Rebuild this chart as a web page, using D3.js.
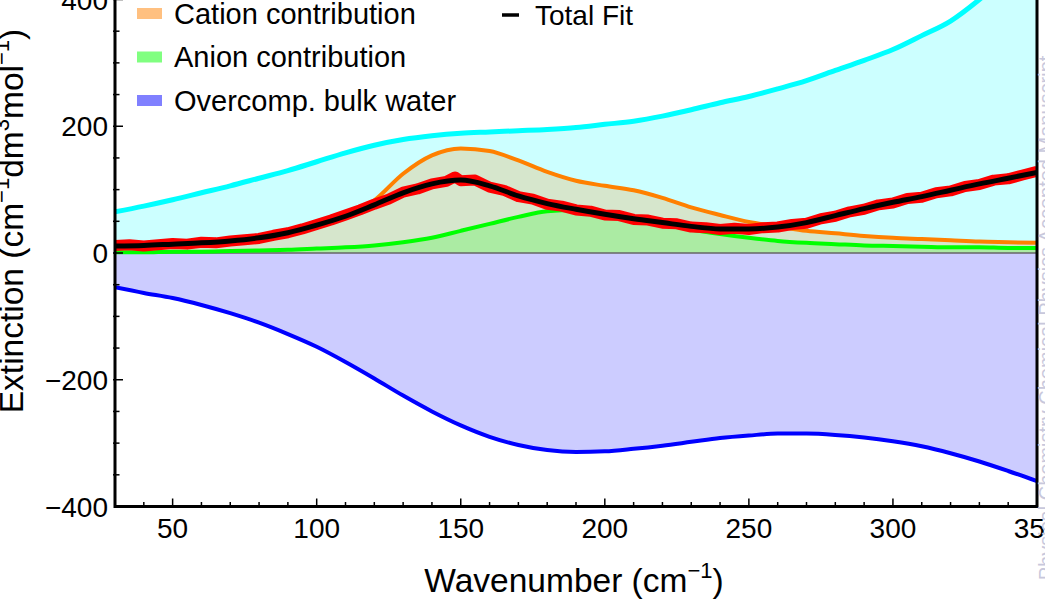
<!DOCTYPE html>
<html>
<head>
<meta charset="utf-8">
<script src="https://cdn.jsdelivr.net/npm/d3@7"></script>
<style>
  body { margin: 0; background: #fff; }
  svg { display: block; font-family: "Liberation Sans", Arial, sans-serif; }
</style>
</head>
<body>
<div id="chart"></div>
<script>
// ── Data ──
const wn = [30, 40, 50, 60, 70, 80, 90, 100, 110, 120, 130, 140, 150, 160, 170, 180, 190, 200,
            210, 220, 230, 240, 250, 260, 270, 280, 290, 300, 310, 320, 330, 340, 350];
const bulkWater = [65, 74, 84, 95, 106, 118, 130, 144, 158, 170, 179, 185, 189, 191, 193, 195, 198, 203,
                   208, 216, 226, 237, 247, 259, 272, 288, 304, 321, 343, 366, 400, 440, 485];
const overcomp = [-54, -63, -71, -82, -95, -110, -128, -148, -172, -198, -225, -250, -272, -290, -303, -311, -314, -313,
                  -309, -304, -298, -292, -288, -285, -285, -287, -291, -297, -305, -316, -329, -344, -360];
const cation = [9, 10, 12, 14, 17, 22, 31, 42, 57, 83, 125, 154, 165, 161, 146, 128, 114, 106,
                99, 87, 72, 60, 49, 42, 35, 31, 27, 24, 22, 20, 18, 17, 16];
const anion = [1, 1, 2, 2, 3, 4, 5, 7, 9, 12, 17, 24, 35, 46, 57, 66, 68, 63,
               55, 46, 37, 30, 24, 19, 16, 14, 12, 11, 10, 9, 9, 8, 8];
const totalFit = [11, 12, 14, 16, 19, 24, 32, 44, 58, 76, 95, 109, 115, 106, 90, 78, 69, 61,
                  54, 48, 42, 38, 38, 41, 48, 59, 70, 80, 89, 99, 109, 118, 127];

// measured spectrum (red, noisy)
const expWn = [30, 35, 40, 45, 50, 55, 60, 65, 70, 75, 80, 85, 90, 95, 100, 105, 110, 115, 120, 125,
               130, 135, 140, 145, 148, 150, 155, 160, 165, 170, 175, 180, 185, 190, 195, 200, 205, 210,
               215, 220, 225, 230, 235, 240, 245, 250, 255, 260, 265, 270, 275, 280, 285, 290, 295, 300,
               305, 310, 315, 320, 325, 330, 335, 340, 345, 350];
const expVal = [12, 13, 11, 13, 15, 14, 17, 16, 19, 21, 23, 28, 32, 38, 45, 52, 60, 68, 77, 85,
                96, 101, 109, 113, 120, 114, 115, 104, 99, 89, 85, 77, 74, 68, 66, 60, 59, 53,
                52, 47, 46, 41, 40, 37, 39, 37, 40, 41, 45, 47, 54, 58, 65, 69, 76, 79,
                86, 88, 95, 98, 105, 108, 115, 117, 123, 129];

const xTicks = [50, 100, 150, 200, 250, 300, 350];
const yTicks = [-400, -200, 0, 200, 400];

const legendItems = ["Cation contribution", "Anion contribution", "Overcomp. bulk water"];
const legendColors = ["#ffc080", "#80ff80", "#8080ff"];

// ── Layout ──
const width = 1045, height = 599;
const left = 115, right = 1037, bottom = 506.5;

const x = d3.scaleLinear().domain([30, 350]).range([left, right]);
const y = d3.scaleLinear().domain([-400, 0]).range([bottom, 253]);
const plotTop = y(480);

const svg = d3.select("#chart").append("svg")
  .attr("width", width).attr("height", height)
  .attr("viewBox", [0, 0, width, height]);

svg.append("clipPath").attr("id", "plot")
  .append("rect").attr("x", left).attr("y", plotTop).attr("width", right - left).attr("height", bottom - plotTop);

const plot = svg.append("g").attr("clip-path", "url(#plot)");

const pts = vals => wn.map((w, i) => [w, vals[i]]);
const area = d3.area().x(d => x(d[0])).y0(y(0)).y1(d => y(d[1])).curve(d3.curveMonotoneX);
const line = d3.line().x(d => x(d[0])).y(d => y(d[1])).curve(d3.curveMonotoneX);

// ── Fills (Mathematica style, colour at 0.2 opacity) ──
const series = [
  { vals: bulkWater, color: "#00ffff", w: 5 },
  { vals: overcomp, color: "#0000ff", w: 4 },
  { vals: cation, color: "#ff8000", w: 4 },
  { vals: anion, color: "#00ff00", w: 4 }
];

plot.append("g").selectAll("path").data(series).join("path")
  .attr("d", d => area(pts(d.vals)))
  .attr("fill", d => d.color).attr("fill-opacity", 0.2);

// zero axis
plot.append("line")
  .attr("x1", left).attr("x2", right).attr("y1", y(0)).attr("y2", y(0))
  .attr("stroke", "#666").attr("stroke-width", 1.5);

plot.append("g").attr("fill", "none").selectAll("path").data(series).join("path")
  .attr("d", d => line(pts(d.vals)))
  .attr("stroke", d => d.color).attr("stroke-width", d => d.w);

// measured + fit
plot.append("path")
  .attr("d", d3.line().x(d => x(d[0])).y(d => y(d[1]))(expWn.map((w, i) => [w, expVal[i]])))
  .attr("fill", "none").attr("stroke", "#ff0000").attr("stroke-width", 11)
  .attr("stroke-linejoin", "round");

plot.append("path")
  .attr("d", line(pts(totalFit)))
  .attr("fill", "none").attr("stroke", "#000").attr("stroke-width", 5);

// ── Frame + ticks ──
const frame = svg.append("g").attr("stroke", "#000").attr("fill", "none");
frame.append("path")
  .attr("d", `M${left},${plotTop}V${bottom}H${right}V${plotTop}`)
  .attr("stroke-width", 3);

frame.selectAll(".xt").data(d3.range(40, 341, 10)).join("line")
  .attr("x1", d => x(d)).attr("x2", d => x(d))
  .attr("y1", bottom).attr("y2", d => bottom - (d % 50 === 0 ? 8 : 4.5))
  .attr("stroke-width", 1.5);

frame.selectAll(".yt").data(d3.range(-350, 451, 50)).join("line")
  .attr("y1", d => y(d)).attr("y2", d => y(d))
  .attr("x1", left - 2).attr("x2", d => left + (d % 200 === 0 ? 8 : 4.5))
  .attr("stroke-width", 1.5);

svg.append("g").attr("font-size", 28).attr("text-anchor", "middle")
  .selectAll("text").data(xTicks).join("text")
  .attr("x", d => x(d)).attr("y", 538)
  .text(d => d);

svg.append("g").attr("font-size", 28).attr("text-anchor", "end")
  .selectAll("text").data(yTicks).join("text")
  .attr("x", 108).attr("y", d => y(d) + 10)
  .text(d => d < 0 ? "\u2212" + Math.abs(d) : d);

// ── Axis titles ──
const xt = svg.append("text").attr("x", 574).attr("y", 592)
  .attr("font-size", 33.5).attr("text-anchor", "middle");
xt.append("tspan").text("Wavenumber (cm");
xt.append("tspan").attr("dy", -14).attr("font-size", 22).text("\u22121");
xt.append("tspan").attr("dy", 14).text(")");

const yt = svg.append("text").attr("transform", "translate(23,221) rotate(-90)")
  .attr("font-size", 33.5).attr("text-anchor", "middle");
yt.append("tspan").text("Extinction (cm");
yt.append("tspan").attr("dy", -14).attr("font-size", 22).text("\u22121");
yt.append("tspan").attr("dy", 14).text("dm");
yt.append("tspan").attr("dy", -14).attr("font-size", 22).text("3");
yt.append("tspan").attr("dy", 14).text("mol");
yt.append("tspan").attr("dy", -14).attr("font-size", 22).text("\u22121");
yt.append("tspan").attr("dy", 14).text(")");

// ── Legend ──
const lg = svg.append("g").attr("font-size", 29);
lg.selectAll("rect").data(legendItems).join("rect")
  .attr("x", 137).attr("y", (d, i) => 8 + i * 43.5).attr("width", 25).attr("height", 11)
  .attr("fill", (d, i) => legendColors[i]);
lg.selectAll("text").data(legendItems).join("text")
  .attr("x", 174).attr("y", (d, i) => 23.5 + i * 43.5)
  .text(d => d);

lg.append("line").attr("x1", 502).attr("x2", 519).attr("y1", 15).attr("y2", 15)
  .attr("stroke", "#000").attr("stroke-width", 3.5);
lg.append("text").attr("x", 535).attr("y", 24.5).attr("font-size", 28).text("Total Fit");

// ── Watermark ──
svg.append("text").attr("transform", "translate(1053,318) rotate(-90)")
  .attr("text-anchor", "middle").attr("font-size", 20).attr("fill", "#c8c8dc")
  .text("Physical Chemistry Chemical Physics Accepted Manuscript");
</script>
</body>
</html>
